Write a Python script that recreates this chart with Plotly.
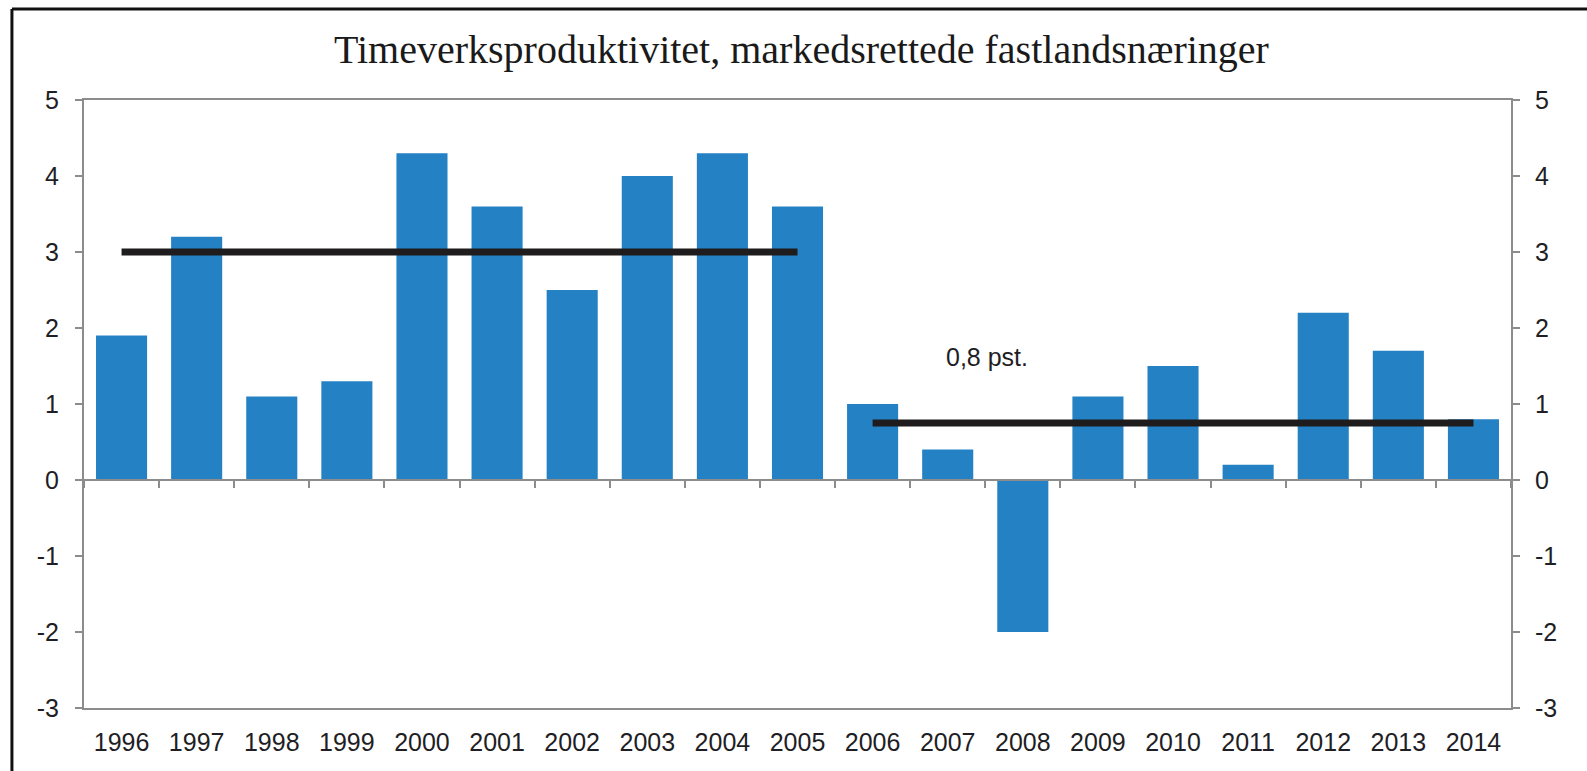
import plotly.graph_objects as go

years = [str(y) for y in range(1996, 2015)]
growth = [1.9, 3.2, 1.1, 1.3, 4.3, 3.6, 2.5, 4.0, 4.3, 3.6,
          1.0, 0.4, -2.0, 1.1, 1.5, 0.2, 2.2, 1.7, 0.8]
avg1_years = ["1996", "2005"]
avg1_vals = [3.0, 3.0]
avg2_years = ["2006", "2014"]
avg2_vals = [0.75, 0.75]
title = "Timeverksproduktivitet, markedsrettede fastlandsnæringer"
note_text = "0,8 pst."
y_ticks = [-3, -2, -1, 0, 1, 2, 3, 4, 5]
y_tick_text = ["-3", "-2", "-1", "0", "1", "2", "3", "4", "5"]

BAR = "#2481c3"
AX = "#8c8c8c"
TXT = "#1e1e24"
FONT = "Liberation Sans, Arial, sans-serif"

fig = go.Figure()
fig.add_trace(go.Bar(x=years, y=growth, marker_color=BAR, marker_line_width=0,
                     width=0.68, showlegend=False))
fig.add_trace(go.Scatter(x=avg1_years, y=avg1_vals, mode="lines", xaxis="x2",
                         line=dict(color="#1f1c1d", width=7), showlegend=False))
fig.add_trace(go.Scatter(x=avg2_years, y=avg2_vals, mode="lines", xaxis="x2",
                         line=dict(color="#1f1c1d", width=7), showlegend=False))
# invisible trace for right axis
fig.add_trace(go.Scatter(x=years, y=growth, yaxis="y2", mode="markers",
                         marker=dict(opacity=0), showlegend=False, hoverinfo="skip"))

fig.update_layout(
    width=1587, height=771,
    paper_bgcolor="white", plot_bgcolor="white",
    margin=dict(l=84, r=76, t=100, b=63),
    title=dict(text=title, x=0.505, xanchor="center", y=0.937, yanchor="middle",
               font=dict(family="Liberation Serif, Times New Roman, serif", size=40, color="#1a1a1a")),
    font=dict(family=FONT, size=25, color=TXT),
    bargap=0.32,
    xaxis=dict(type="category", categoryorder="array", categoryarray=years,
               range=[-0.5, 18.5], showline=True, linecolor=AX, linewidth=2, mirror=True,
               ticks="outside", ticklen=11, tickcolor="rgba(0,0,0,0)",
               showgrid=False, zeroline=False,
               tickfont=dict(family=FONT, size=25, color=TXT)),
    xaxis2=dict(type="category", categoryorder="array", categoryarray=years,
                range=[-0.5, 18.5], overlaying="x", anchor="free", position=3/8,
                showline=True, linecolor=AX, linewidth=2,
                ticks="outside", tickson="boundaries", ticklen=7, tickcolor=AX, tickwidth=2,
                showticklabels=False, showgrid=False, zeroline=False),
    yaxis=dict(range=[-3, 5], tickvals=y_ticks, ticktext=y_tick_text,
               showline=True, linecolor=AX, linewidth=2,
               ticks="outside", ticklen=7, tickcolor=AX, tickwidth=2,
               showgrid=False, zeroline=False, ticklabelstandoff=11,
               tickfont=dict(family=FONT, size=25, color=TXT)),
    yaxis2=dict(range=[-3, 5], tickvals=y_ticks, ticktext=y_tick_text,
                overlaying="y", side="right",
                showline=True, linecolor=AX, linewidth=2,
                ticks="outside", ticklen=7, tickcolor=AX, tickwidth=2,
                showgrid=False, zeroline=False, ticklabelstandoff=10,
                tickfont=dict(family=FONT, size=25, color=TXT)),
    annotations=[dict(text=note_text, x=11.52, y=1.62, xref="x", yref="y",
                      showarrow=False, font=dict(family=FONT, size=25, color=TXT))],
    shapes=[
        # outer frame: thick top and left, thin right
        dict(type="line", xref="paper", yref="paper", x0=-0.0505, x1=1.07, y0=1.1497, y1=1.1497,
             line=dict(color="#111111", width=3), layer="below"),
        dict(type="line", xref="paper", yref="paper", x0=-0.0505, x1=-0.0505, y0=-0.2, y1=1.1497,
             line=dict(color="#111111", width=3), layer="below"),
        dict(type="line", xref="paper", yref="paper", x0=1.0568, x1=1.0568, y0=-0.2, y1=1.1497,
             line=dict(color="#9a9a9a", width=1.2), layer="below"),
    ],
)

fig.write_html("out.html", config={"displayModeBar": False},
               post_script="document.body.style.margin='0';document.body.style.overflow='hidden';")
